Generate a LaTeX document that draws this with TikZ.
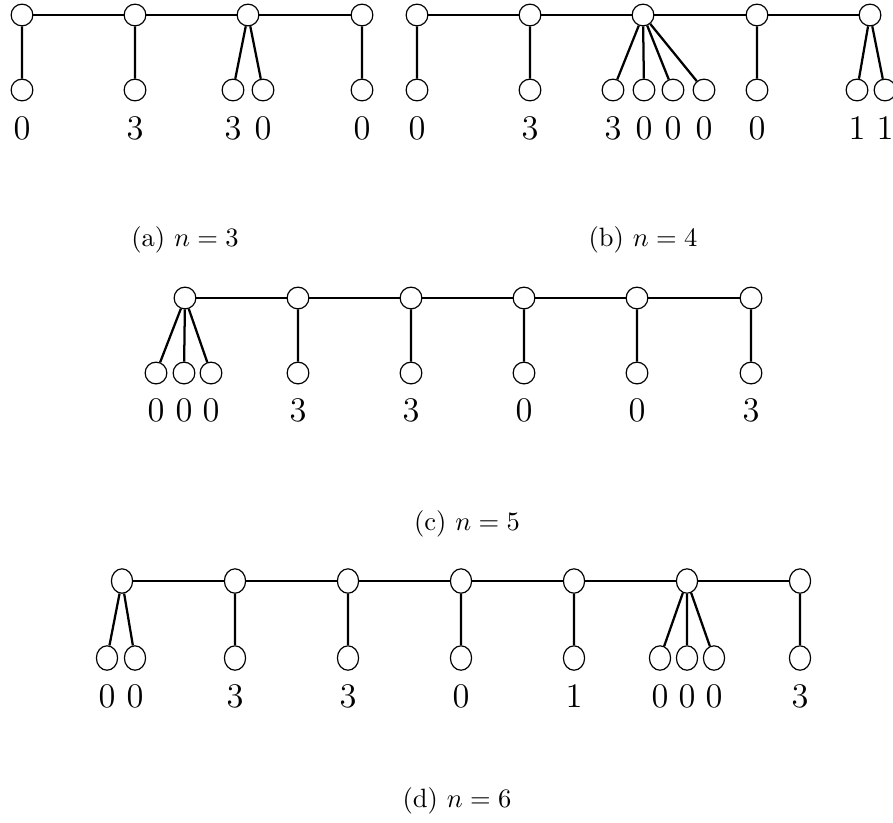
\documentclass[tikz,border=0pt]{standalone}
\usetikzlibrary{shapes.geometric}
\begin{document}
\begin{tikzpicture}[x=0.377pt,y=-0.377pt,
  vtx/.style={circle,draw,line width=0.45pt,minimum size=8.2pt,inner sep=0pt,fill=white},
  vtxd/.style={ellipse,draw,line width=0.45pt,minimum width=8pt,minimum height=9.2pt,inner sep=0pt,fill=white},
  edge/.style={line width=0.85pt},
  lbl/.style={inner sep=0pt,font=\fontsize{13}{15}\selectfont},
  captxt/.style={inner sep=0pt,font=\normalsize}]
\useasboundingbox (0,0) rectangle (893,822);
% ---------- (a) ----------
\node[vtx] (a1) at (22,15) {};
\node[vtx] (a2) at (135,15) {};
\node[vtx] (a3) at (248,15) {};
\node[vtx] (a4) at (362,15) {};
\node[vtx] (a1a) at (22,90) {};
\node[vtx] (a2a) at (135,90) {};
\node[vtx] (a3a) at (233,90) {};
\node[vtx] (a3b) at (263,90) {};
\node[vtx] (a4a) at (362,90) {};
\draw[edge] (a1) -- (a2) (a2) -- (a3) (a3) -- (a4);
\draw[edge] (a1) -- (a1a) (a2) -- (a2a) (a3) -- (a3a) (a3) -- (a3b) (a4) -- (a4a);
\node[lbl] (la1) at (22,128) {0};
\node[lbl] (la2) at (135,128) {3};
\node[lbl] (la3) at (233,128) {3};
\node[lbl] (la4) at (263,128) {0};
\node[lbl] (la5) at (362,128) {0};
\node[captxt] (capa) at (185,240) {(a) $n=3$};
% ---------- (b) ----------
\node[vtx] (b1) at (417,15) {};
\node[vtx] (b2) at (530,15) {};
\node[vtx] (b3) at (643,15) {};
\node[vtx] (b4) at (757,15) {};
\node[vtx] (b5) at (870,15) {};
\node[vtx] (b1a) at (417,90) {};
\node[vtx] (b2a) at (530,90) {};
\node[vtx] (b3a) at (613,90) {};
\node[vtx] (b3b) at (644,90) {};
\node[vtx] (b3c) at (673,90) {};
\node[vtx] (b3d) at (704,90) {};
\node[vtx] (b4a) at (757,90) {};
\node[vtx] (b5a) at (857,90) {};
\node[vtx] (b5b) at (885,90) {};
\draw[edge] (b1) -- (b2) (b2) -- (b3) (b3) -- (b4) (b4) -- (b5);
\draw[edge] (b1) -- (b1a) (b2) -- (b2a) (b3) -- (b3a) (b3) -- (b3b) (b3) -- (b3c) (b3) -- (b3d)
  (b4) -- (b4a) (b5) -- (b5a) (b5) -- (b5b);
\node[lbl] (lb1) at (417,128) {0};
\node[lbl] (lb2) at (530,128) {3};
\node[lbl] (lb3) at (613,128) {3};
\node[lbl] (lb4) at (644,128) {0};
\node[lbl] (lb5) at (673,128) {0};
\node[lbl] (lb6) at (704,128) {0};
\node[lbl] (lb7) at (757,128) {0};
\node[lbl] (lb8) at (857,128) {1};
\node[lbl] (lb9) at (885,128) {1};
\node[captxt] (capb) at (643,240) {(b) $n=4$};
% ---------- (c) ----------
\node[vtx] (c1) at (185,298) {};
\node[vtx] (c2) at (298,298) {};
\node[vtx] (c3) at (411,298) {};
\node[vtx] (c4) at (524,298) {};
\node[vtx] (c5) at (637,298) {};
\node[vtx] (c6) at (751,298) {};
\node[vtx] (c1a) at (156,373) {};
\node[vtx] (c1b) at (184,373) {};
\node[vtx] (c1c) at (211,373) {};
\node[vtx] (c2a) at (298,373) {};
\node[vtx] (c3a) at (411,373) {};
\node[vtx] (c4a) at (524,373) {};
\node[vtx] (c5a) at (637,373) {};
\node[vtx] (c6a) at (751,373) {};
\draw[edge] (c1) -- (c2) (c2) -- (c3) (c3) -- (c4) (c4) -- (c5) (c5) -- (c6);
\draw[edge] (c1) -- (c1a) (c1) -- (c1b) (c1) -- (c1c) (c2) -- (c2a) (c3) -- (c3a)
  (c4) -- (c4a) (c5) -- (c5a) (c6) -- (c6a);
\node[lbl] (lc1) at (156,410) {0};
\node[lbl] (lc2) at (184,410) {0};
\node[lbl] (lc3) at (211,410) {0};
\node[lbl] (lc4) at (298,410) {3};
\node[lbl] (lc5) at (411,410) {3};
\node[lbl] (lc6) at (524,410) {0};
\node[lbl] (lc7) at (637,410) {0};
\node[lbl] (lc8) at (751,410) {3};
\node[captxt] (capc) at (467,524) {(c) $n=5$};
% ---------- (d) ----------
\node[vtxd] (d1) at (122,581) {};
\node[vtxd] (d2) at (235,581) {};
\node[vtxd] (d3) at (348,581) {};
\node[vtxd] (d4) at (461,581) {};
\node[vtxd] (d5) at (574,581) {};
\node[vtxd] (d6) at (687,581) {};
\node[vtxd] (d7) at (800,581) {};
\node[vtxd] (d1a) at (107,658) {};
\node[vtxd] (d1b) at (135,658) {};
\node[vtxd] (d2a) at (235,658) {};
\node[vtxd] (d3a) at (348,658) {};
\node[vtxd] (d4a) at (461,658) {};
\node[vtxd] (d5a) at (574,658) {};
\node[vtxd] (d6a) at (660,658) {};
\node[vtxd] (d6b) at (687,658) {};
\node[vtxd] (d6c) at (714,658) {};
\node[vtxd] (d7a) at (800,658) {};
\draw[edge] (d1) -- (d2) (d2) -- (d3) (d3) -- (d4) (d4) -- (d5) (d5) -- (d6) (d6) -- (d7);
\draw[edge] (d1) -- (d1a) (d1) -- (d1b) (d2) -- (d2a) (d3) -- (d3a) (d4) -- (d4a)
  (d5) -- (d5a) (d6) -- (d6a) (d6) -- (d6b) (d6) -- (d6c) (d7) -- (d7a);
\node[lbl] (ld1) at (107,696) {0};
\node[lbl] (ld2) at (135,696) {0};
\node[lbl] (ld3) at (235,696) {3};
\node[lbl] (ld4) at (348,696) {3};
\node[lbl] (ld5) at (461,696) {0};
\node[lbl] (ld6) at (574,696) {1};
\node[lbl] (ld7) at (660,696) {0};
\node[lbl] (ld8) at (687,696) {0};
\node[lbl] (ld9) at (714,696) {0};
\node[lbl] (ld10) at (800,696) {3};
\node[captxt] (capd) at (457,801) {(d) $n=6$};
\end{tikzpicture}
\end{document}
